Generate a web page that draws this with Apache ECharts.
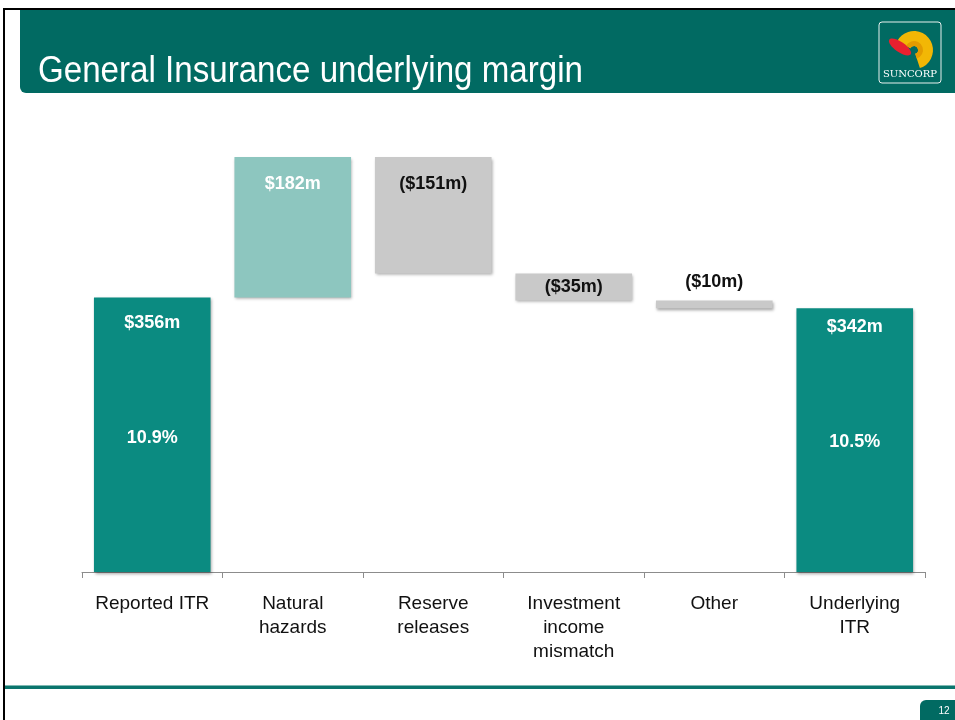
<!DOCTYPE html>
<html>
<head>
<meta charset="utf-8">
<script src="https://cdn.jsdelivr.net/npm/echarts@6/dist/echarts.min.js"></script>
<style>
  html, body { margin: 0; padding: 0; background: #fff; }
  #main { width: 955px; height: 720px; }
</style>
</head>
<body>
<div id="main"></div>
<script>
// waterfall data ($m)
var categories = ['Reported ITR', 'Natural\nhazards', 'Reserve\nreleases', 'Investment\nincome\nmismatch', 'Other', 'Underlying\nITR'];
var baseValues = [0, 356, 387, 352, 342, 0];
var barValues = [356, 182, 151, 35, 10, 342];
var valueLabels = ['$356m', '$182m', '($151m)', '($35m)', '($10m)', '$342m'];
var marginLabels = ['10.9%', '', '', '', '', '10.5%'];

var TEAL_DARK = '#016a62';
var colors = ['#0b8b81', '#8dc6bf', '#c9c9c9', '#c9c9c9', '#c9c9c9', '#0b8b81'];
// label placement per bar
var labelPos = ['insideTop', 'insideTop', 'insideTop', 'inside', 'top', 'insideTop'];
var labelDist = [16, 17, 17, 5, 8, 9];
var labelColor = ['#fff', '#fff', '#111', '#111', '#111', '#fff'];

var chart = echarts.init(document.getElementById('main'), null, { renderer: 'canvas' });

var barData = barValues.map(function (v, i) {
  return {
    value: v,
    itemStyle: { color: colors[i] },
    label: {
      show: true,
      position: labelPos[i],
      distance: labelDist[i],
      color: labelColor[i],
      formatter: function () {
        if (marginLabels[i]) {
          return '{a|' + valueLabels[i] + '}\n{s|}\n{a|' + marginLabels[i] + '}';
        }
        return '{a|' + valueLabels[i] + '}';
      },
      rich: {
        a: { fontSize: 18, fontWeight: 'bold', fontFamily: 'Liberation Sans, Arial, sans-serif', color: labelColor[i], lineHeight: 20 },
        s: { lineHeight: 95 }
      }
    }
  };
});

var option = {
  animation: false,
  backgroundColor: '#fff',
  grid: { left: 82, right: 30, top: 157, bottom: 148 },
  xAxis: {
    type: 'category',
    data: categories,
    axisLine: { lineStyle: { color: '#8c8c8c', width: 1 } },
    axisTick: { show: true, length: 6, lineStyle: { color: '#8c8c8c' } },
    axisLabel: {
      color: '#111',
      fontSize: 19,
      lineHeight: 24,
      margin: 20,
      fontFamily: 'Liberation Sans, Arial, sans-serif',
      interval: 0
    }
  },
  yAxis: {
    type: 'value',
    min: 0,
    max: 538,
    show: false
  },
  series: [
    {
      name: 'base',
      type: 'bar',
      stack: 'w',
      barCategoryGap: '17%',
      data: baseValues,
      itemStyle: { color: 'transparent' },
      silent: true
    },
    {
      name: 'value',
      type: 'bar',
      stack: 'w',
      barCategoryGap: '17%',
      data: barData,
      itemStyle: {
        shadowColor: 'rgba(0,0,0,0.35)',
        shadowBlur: 3,
        shadowOffsetX: 1,
        shadowOffsetY: 2
      }
    }
  ],
  graphic: [
    // slide frame
    { type: 'rect', shape: { x: 3, y: 8, width: 952, height: 2 }, style: { fill: '#000' } },
    { type: 'rect', shape: { x: 3, y: 8, width: 2, height: 712 }, style: { fill: '#000' } },
    // header band
    { type: 'rect', shape: { x: 20, y: 10, width: 935, height: 83, r: [0, 0, 0, 6] }, style: { fill: TEAL_DARK } },
    {
      type: 'text', x: 38, y: 72, scaleX: 0.92,
      style: {
        text: 'General Insurance underlying margin',
        fill: '#fff', fontSize: 36,
        fontFamily: 'Liberation Sans, Arial, sans-serif',
        verticalAlign: 'middle'
      }
    },
    // logo
    { type: 'rect', shape: { x: 879, y: 22, width: 62, height: 61, r: 3 }, style: { fill: 'none', stroke: '#e8f0ee', lineWidth: 1 } },
    {
      type: 'sector',
      shape: { cx: 914, cy: 50, r: 19, r0: 4, startAngle: Math.PI * 1.15, endAngle: Math.PI * 2.4, clockwise: true },
      style: { fill: '#f2b705' }
    },
    {
      type: 'sector',
      shape: { cx: 914, cy: 50, r: 9, r0: 4, startAngle: Math.PI * 1.15, endAngle: Math.PI * 2.4, clockwise: true },
      style: { fill: '#e39b00' }
    },
    {
      type: 'ellipse', x: 900, y: 47, rotation: -0.6,
      shape: { cx: 0, cy: 0, rx: 13, ry: 5 },
      style: { fill: '#e8202f' }
    },
    {
      type: 'text', x: 910, y: 74,
      style: { text: 'SUNCORP', fill: '#fff', fontSize: 10, fontFamily: 'DejaVu Serif, serif', align: 'center', verticalAlign: 'middle' }
    },
    // footer
    { type: 'rect', shape: { x: 5, y: 685, width: 950, height: 1 }, style: { fill: '#7fb9b3' } },
    { type: 'rect', shape: { x: 5, y: 686, width: 950, height: 3 }, style: { fill: '#0b756d' } },
    { type: 'rect', shape: { x: 920, y: 700, width: 35, height: 20, r: [6, 0, 0, 0] }, style: { fill: TEAL_DARK } },
    {
      type: 'text', x: 944, y: 711,
      style: { text: '12', fill: '#fff', fontSize: 10, fontFamily: 'Liberation Sans, sans-serif', align: 'center', verticalAlign: 'middle' }
    }
  ]
};

chart.setOption(option);
</script>
</body>
</html>
